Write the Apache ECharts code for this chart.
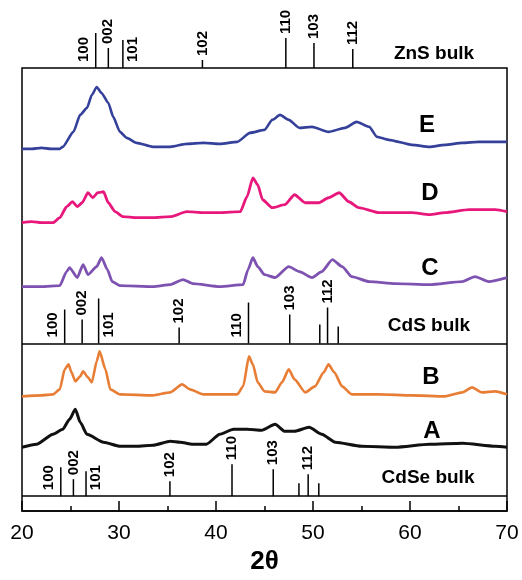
<!DOCTYPE html>
<html><head><meta charset="utf-8">
<script src="https://cdn.jsdelivr.net/npm/echarts@6/dist/echarts.min.js"></script>
<style>html,body{margin:0;padding:0;background:#fff}#c{width:522px;height:580px}</style>
</head><body><div id="c"></div>
<script>
// ---- data (2theta, intensity a.u. above each trace's own baseline) ----
const xTicks = [20, 30, 40, 50, 60, 70];

const eX = [20.0,21.0,22.0,23.0,23.9,24.2,25.3,26.0,26.7,27.2,27.7,28.2,28.9,29.4,30.1,30.8,31.8,33.5,35.3,37.0,38.7,40.4,42.2,43.5,45.0,45.8,46.6,47.5,48.6,49.9,51.6,53.3,54.5,55.8,56.6,57.8,60.2,62.0,63.6,65.4,67.1,69.5,70.0];
const eY = [1,1,2,1,1,3,18,35,42,55,63,57,47,33,18,12,7,3,3,6,7,6,8,17,20,30,35,30,22,23,18,22,28,23,13,10,5,3,5,7,8,8,8];

const dX = [20.0,21.0,22.0,23.2,23.9,24.6,25.2,25.7,26.2,26.8,27.3,27.8,28.4,28.9,29.6,30.4,31.8,33.5,35.3,37.0,38.7,40.4,42.5,43.2,43.8,44.3,44.8,45.8,47.1,48.1,49.2,50.6,51.6,52.7,53.7,54.7,56.8,60.2,62.0,63.6,66.1,68.8,70.0];
const dY = [0,1,0,0,5,16,21,16,20,30,25,30,31,20,11,6,5,5,6,11,10,10,11,26,45,38,23,15,18,28,20,20,25,30,21,15,10,10,8,10,13,13,11];

const cX = [20.0,22.0,23.9,24.6,24.9,25.7,26.3,26.8,27.7,28.2,28.8,29.3,30.1,33.5,35.3,36.6,37.6,40.4,42.8,43.3,43.8,44.3,45.0,46.1,47.5,48.6,49.9,50.9,52.0,53.0,54.0,55.8,58.5,62.0,65.4,66.7,68.1,70.0];
const cY = [1,1,2,16,20,10,23,13,21,30,18,6,2,1,3,8,4,1,3,18,30,21,13,10,21,16,10,16,28,21,11,6,4,3,6,11,6,10];

const bX = [20.0,22.0,23.2,23.9,24.4,24.8,25.1,25.5,26.0,26.3,26.8,27.2,27.7,28.0,28.6,29.1,30.1,33.5,35.3,36.5,37.3,38.7,42.2,42.8,43.4,43.8,44.3,45.0,46.1,46.8,47.5,48.1,49.2,50.2,51.1,51.6,52.2,53.0,54.0,56.8,60.2,63.6,65.4,66.4,67.4,68.8,70.0];
const bY = [0,1,2,7,27,32,24,15,20,25,19,14,35,45,27,7,2,1,4,12,7,2,2,10,40,32,14,5,4,14,27,17,4,10,24,32,24,10,2,2,1,0,4,9,4,5,2];

const aX = [20.0,21.5,23.2,24.2,24.9,25.5,26.0,26.7,28.4,30.1,31.8,33.5,35.3,36.3,37.6,39.0,40.4,41.8,43.2,44.7,46.1,47.1,48.1,49.6,50.9,52.3,55.0,58.5,62.0,65.4,68.8,70.0];
const aY = [2,5,15,20,30,40,27,15,7,3,3,4,8,7,5,5,15,20,20,19,25,18,18,22,15,7,3,2,5,6,3,2];

const znsPos = [27.6, 28.9, 30.4, 38.6, 47.2, 50.1, 54.1];
const znsInt = [35, 20, 28, 8, 30, 25, 19];
const znsHkl = ['100','002','101','102','110','103','112'];

const cdsPos = [24.4, 26.2, 27.9, 36.2, 43.35, 47.6, 50.7, 51.5, 52.6];
const cdsInt = [34, 24, 45, 16, 41, 29, 19, 36, 17];
const cdsHkl = ['100','002','101','102','110','103','','112',''];

const cdsePos = [24.0, 25.3, 26.6, 35.25, 41.65, 45.9, 48.55, 49.5, 50.6];
const cdseInt = [29, 17, 25, 15, 32, 27, 13, 22, 13];
const cdseHkl = ['100','002','101','102','110','103','','112',''];

// ---- layout / style ----
const FONT = '"Liberation Sans", Arial, sans-serif';
const offsets = {E: 362, D: 289, C: 224, B: 115, A: 62, cds: 168, cdse: 15};
const colors = {E: '#34409a', D: '#e8177b', C: '#7d52b0', B: '#e87d35', A: '#111111'};
const widths = {E: 2.6, D: 2.8, C: 2.8, B: 2.6, A: 3.0};
const znsPlace = ['left','top','right','top','top','top','top'];
const cdsPlace = ['left','top','right','top','left','top','top','top','top'];
const cdsePlace = ['left','top','right','top','top','top','top','top','top'];

function trace(name, xs, ys) {
  const off = offsets[name];
  return {
    type: 'line', name, xAxisIndex: 0, yAxisIndex: 0,
    data: xs.map((x, i) => [x, off + ys[i]]),
    showSymbol: false, smooth: 0.2, smoothMonotone: 'x',
    lineStyle: {color: colors[name], width: widths[name], join: 'round'},
    itemStyle: {color: colors[name]}, silent: true, z: 3
  };
}

function sticks(pos, ints, hkl, place, base, xi, yi) {
  return {
    type: 'custom', xAxisIndex: xi, yAxisIndex: yi, silent: true, z: 4,
    data: pos.map((p, i) => [p, ints[i]]),
    renderItem: function (params, api) {
      const i = params.dataIndex;
      const x = api.value(0), h = api.value(1);
      const p0 = api.coord([x, base]);
      const p1 = api.coord([x, base + h]);
      const children = [{
        type: 'line', shape: {x1: p0[0], y1: p0[1], x2: p1[0], y2: p1[1]},
        style: {stroke: '#000', lineWidth: 1.5}
      }];
      if (hkl[i]) {
        let tx, ty;
        if (place[i] === 'top') { tx = p1[0]; ty = p1[1] - 4; }
        else if (place[i] === 'left') { tx = p0[0] - 12; ty = p0[1] - 6; }
        else { tx = p0[0] + 10; ty = p0[1] - 6; }
        children.push({
          type: 'text', x: tx, y: ty, rotation: Math.PI / 2,
          style: {text: hkl[i], fill: '#000', align: 'left', verticalAlign: 'middle',
                  font: 'bold 15px ' + FONT}
        });
      }
      return {type: 'group', children};
    }
  };
}

const chart = echarts.init(document.getElementById('c'), null, {renderer: 'canvas'});
const lbl = (t, x, y, size) => ({
  type: 'text', x, y, z: 10,
  style: {text: t, fill: '#000', align: 'center', verticalAlign: 'middle', font: 'bold ' + size + 'px ' + FONT}
});

chart.setOption({
  animation: false,
  backgroundColor: '#fff',
  grid: [
    {left: 22, right: 15, top: 68, bottom: 68, show: true, borderColor: '#000', borderWidth: 1.5, backgroundColor: 'transparent'},
    {left: 22, right: 15, top: 0, height: 68, show: false}
  ],
  xAxis: [
    {
      gridIndex: 0, type: 'value', min: 20, max: 70, interval: 10,
      axisLine: {show: true, lineStyle: {color: '#000', width: 1.5}},
      axisTick: {show: true, inside: true, length: 10, lineStyle: {color: '#000', width: 1.5}},
      minorTick: {show: true, splitNumber: 2, length: 5, lineStyle: {color: '#000', width: 1.5}},
      splitLine: {show: false},
      axisLabel: {color: '#000', fontSize: 21, fontFamily: FONT, margin: 12,
                  formatter: v => xTicks.includes(v) ? String(v) : ''},
      name: '2θ', nameLocation: 'middle', nameGap: 36,
      nameTextStyle: {color: '#000', fontSize: 26, fontWeight: 'bold', fontFamily: FONT}
    },
    {gridIndex: 1, type: 'value', min: 20, max: 70, show: false}
  ],
  yAxis: [
    {gridIndex: 0, type: 'value', min: 0, max: 444, show: false},
    {gridIndex: 1, type: 'value', min: 0, max: 68, show: false}
  ],
  series: [
    trace('E', eX, eY),
    trace('D', dX, dY),
    trace('C', cX, cY),
    trace('B', bX, bY),
    trace('A', aX, aY),
    sticks(znsPos, znsInt, znsHkl, znsPlace, 0, 1, 1),
    sticks(cdsPos, cdsInt, cdsHkl, cdsPlace, offsets.cds, 0, 0),
    sticks(cdsePos, cdseInt, cdseHkl, cdsePlace, offsets.cdse, 0, 0),
    {
      type: 'line', xAxisIndex: 0, yAxisIndex: 0, data: [], silent: true,
      markLine: {
        symbol: 'none', silent: true, label: {show: false},
        lineStyle: {color: '#000', width: 1.5, type: 'solid'},
        data: [{yAxis: offsets.cds}, {yAxis: offsets.cdse}]
      }
    }
  ],
  graphic: [
    lbl('ZnS bulk', 434, 54, 19),
    lbl('CdS bulk', 429, 326, 19),
    lbl('CdSe bulk', 428, 478, 19),
    lbl('E', 427, 125, 24),
    lbl('D', 430, 193, 24),
    lbl('C', 430, 268, 24),
    lbl('B', 431, 377, 24),
    lbl('A', 432, 431, 24)
  ]
});
</script>
</body></html>
